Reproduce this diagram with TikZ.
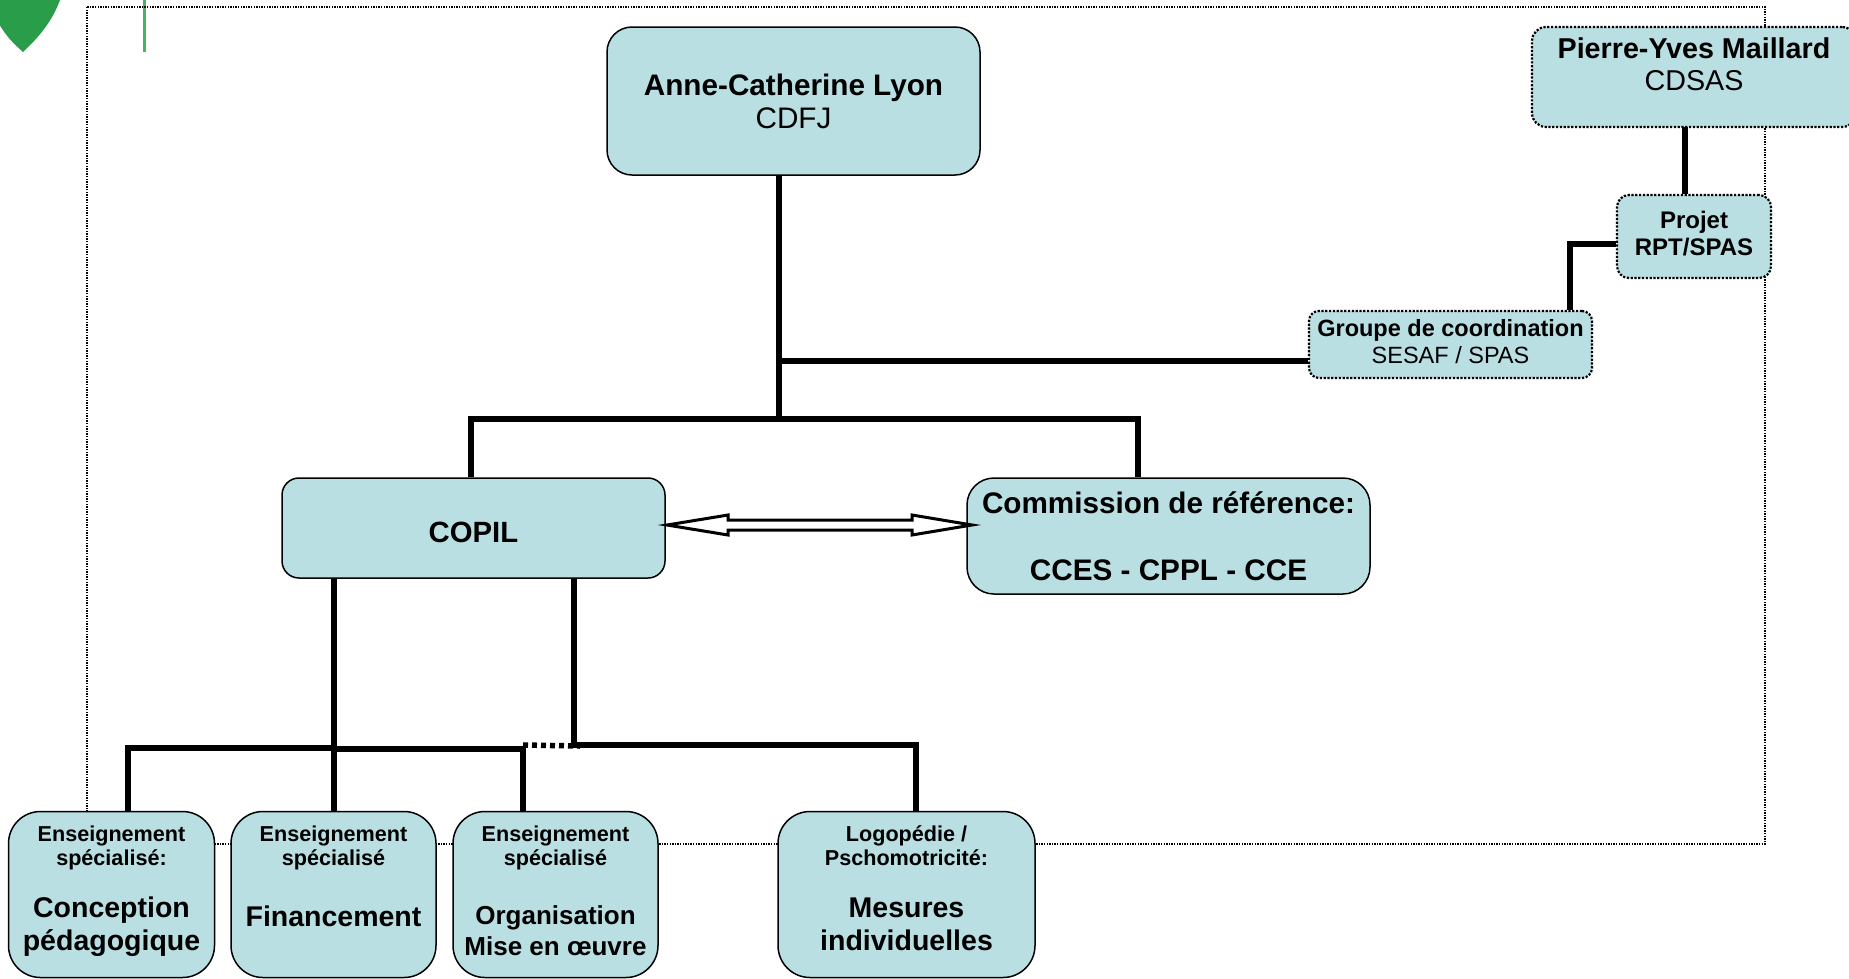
\documentclass[tikz,border=0pt]{standalone}
\usepackage{fontspec}
\setmainfont{Liberation Sans}
\definecolor{boxfill}{HTML}{B9DFE3}
\definecolor{shieldgreen}{HTML}{2A9D4A}
\definecolor{bargreen}{HTML}{45B565}
\newcommand{\fsz}[1]{\fontsize{#1}{#1}\selectfont}
\tikzset{
orgbox/.style={draw=black,line width=1.5,fill=boxfill,align=center,inner sep=0,text=black},
dotbox/.style={orgbox,line width=2.2,dash pattern=on 2.2 off 1.6},
link/.style={draw=black,line width=5.5},
}
\begin{document}
\begin{tikzpicture}[x=1pt,y=-1pt]
\useasboundingbox (0,0) rectangle (1849,978);
\fill[shieldgreen] (-12,0)--(60,0)..controls (52,22) and (38,38)..(23,52)..controls (12,42) and (0,32)..(-12,0);
\draw[bargreen,line width=3] (144,0)--(144,52);
\draw[line width=1.3,dash pattern=on 1.4 off 1.2] (87,7) rectangle (1765,844);

\node[orgbox,rounded corners=25,minimum width=373,minimum height=148,font=\fsz{29.7}] (anne) at (793.5,101) {\textbf{Anne-Catherine Lyon}\\[3.3]CDFJ};
\node[dotbox,rounded corners=14,minimum width=324,minimum height=100,font=\fsz{28.7}] (pierre) at (1694,77) {\textbf{Pierre-Yves Maillard}\\[3.3]CDSAS\\[-2.7]\mbox{}};
\node[dotbox,rounded corners=12,minimum width=154,minimum height=83,font=\fsz{24}] (projet) at (1694,236.5) {\textbf{Projet}\\[3]\textbf{RPT/SPAS}\\[-17]\mbox{}};
\node[dotbox,rounded corners=10,minimum width=283,minimum height=67,font=\fsz{23.5}] (groupe) at (1450.5,344.5) {\textbf{Groupe de coordination}\\[3.5]SESAF / SPAS\\[-16.5]\mbox{}};
\node[orgbox,rounded corners=17,minimum width=383,minimum height=100,font=\fsz{29.3}] (copil) at (473.5,528) {\mbox{}\\\textbf{COPIL}};
\node[orgbox,rounded corners=27,minimum width=403,minimum height=116,font=\fsz{29.7}] (comm) at (1168.5,536) {\textbf{Commission de référence:}\\[37.3]\textbf{CCES - CPPL - CCE}};
\node[orgbox,rounded corners=32,minimum width=206,minimum height=166,font=\fsz{28.5}] (conc) at (111.5,894.5) {\fsz{21.6}\textbf{Enseignement}\\[-4.5]\fsz{21.6}\textbf{spécialisé:}\\[23.5]\textbf{Conception}\\[4.5]\textbf{pédagogique}\\[-16.5]\mbox{}};
\node[orgbox,rounded corners=32,minimum width=205,minimum height=166,font=\fsz{28.5}] (fin) at (333.5,894.5) {\fsz{21.6}\textbf{Enseignement}\\[-4.5]\fsz{21.6}\textbf{spécialisé}\\[32.5]\textbf{Financement}\\[7.5]\mbox{}};
\node[orgbox,rounded corners=32,minimum width=205,minimum height=166,font=\fsz{28.5}] (orga) at (555.5,894.5) {\fsz{21.6}\textbf{Enseignement}\\[-4.5]\fsz{21.6}\textbf{spécialisé}\\[30.5]\fsz{26}\textbf{Organisation}\\[2.5]\fsz{26}\textbf{Mise en œuvre}\\[-21.5]\mbox{}};
\node[orgbox,rounded corners=32,minimum width=257,minimum height=166,font=\fsz{28.5}] (logo) at (906.5,894.5) {\fsz{21.6}\textbf{Logopédie /}\\[-4.5]\fsz{21.6}\textbf{Pschomotricité:}\\[23.5]\textbf{Mesures}\\[4.5]\textbf{individuelles}\\[-16.5]\mbox{}};

\coordinate (top) at (779,419);
\coordinate (side) at (779,361);
\coordinate (copilL) at (471,419);
\coordinate (commT) at (1138,419);
\coordinate (treeL) at (334,748);
\coordinate (treeR) at (574,745);
\coordinate (concT) at (128,748);
\coordinate (orgaT) at (523,749);
\coordinate (logoT) at (916,745);
\coordinate (projL) at (1570,244);
\coordinate (pierreB) at (1685,127);

\draw[link] (anne.south -| top)--(top);
\draw[link] (side)--(side -| groupe.west);
\draw[link] (copil.north -| copilL)--(copilL)--(commT)--(comm.north -| commT);
\draw[link] (copil.south -| treeL)--(fin.north -| treeL);
\draw[link] (conc.north -| concT)--(concT)--(treeL);
\draw[link] (treeL |- orgaT)--(orgaT)--(orga.north -| orgaT);
\draw[link] (copil.south -| treeR)--(treeR)--(logoT)--(logo.north -| logoT);
\draw[line width=5.5,dash pattern=on 5 off 4] (orgaT |- treeR)--(580,746);
\draw[link] (pierreB)--(projet.north -| pierreB);
\draw[link] (projet.west |- projL)--(projL)--(groupe.north -| projL);

\coordinate (arrowL) at (667,525);
\coordinate (arrowR) at (972,525);
\draw[line width=3,fill=white,miter limit=20] (arrowL)--++(61,-10)--++(0,5)--(912,520)--(912,515)--(arrowR)--(912,535)--(912,530)--(728,530)--(728,535)--cycle;
\end{tikzpicture}
\end{document}
